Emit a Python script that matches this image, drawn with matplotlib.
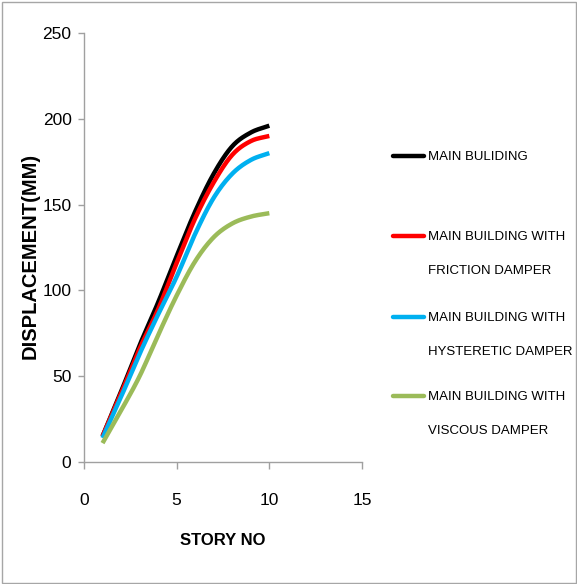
import numpy as np
import matplotlib
matplotlib.use("Agg")
import matplotlib.pyplot as plt
from matplotlib.lines import Line2D
from matplotlib.patches import Rectangle

stories = [1, 2, 3, 4, 5, 6, 7, 8, 9, 10]
main_building = [15, 41, 68, 93, 120, 146, 168, 184, 192, 196]
friction_damper = [15, 40, 66, 89, 116, 142, 163, 179, 187, 190]
hysteretic_damper = [14, 38, 63, 86, 108, 133, 154, 168, 176, 180]
viscous_damper = [11, 30, 50, 74, 97, 117, 131, 139, 143, 145]

series_labels = [["MAIN BULIDING"],
                 ["MAIN BUILDING WITH", "FRICTION DAMPER"],
                 ["MAIN BUILDING WITH", "HYSTERETIC DAMPER"],
                 ["MAIN BUILDING WITH", "VISCOUS DAMPER"]]
series_colors = ["#000000", "#FF0000", "#00B0F0", "#9BBB59"]
x_ticks = [0, 5, 10, 15]
y_ticks = [0, 50, 100, 150, 200, 250]

FONT = "Liberation Sans"
W, H = 577, 584


def smooth(x, y, steps=20):
    """Catmull-Rom style smoothing for a line through the given points."""
    x = np.asarray(x, float)
    y = np.asarray(y, float)
    px = np.concatenate([[2 * x[0] - x[1]], x, [2 * x[-1] - x[-2]]])
    py = np.concatenate([[2 * y[0] - y[1]], y, [2 * y[-1] - y[-2]]])
    xs, ys = [], []
    t = np.linspace(0, 1, steps, endpoint=False)
    for i in range(1, len(px) - 2):
        for arr, out in ((px, xs), (py, ys)):
            p0, p1, p2, p3 = arr[i - 1], arr[i], arr[i + 1], arr[i + 2]
            out.extend(0.5 * ((2 * p1) + (-p0 + p2) * t
                              + (2 * p0 - 5 * p1 + 4 * p2 - p3) * t ** 2
                              + (-p0 + 3 * p1 - 3 * p2 + p3) * t ** 3))
    xs.append(x[-1])
    ys.append(y[-1])
    return np.array(xs), np.array(ys)


fig = plt.figure(figsize=(W / 100, H / 100), dpi=100)
fig.patch.set_facecolor("white")
fig.add_artist(Rectangle((1.5 / W, 1.5 / H), 1 - 3 / W, 1 - 3 / H, transform=fig.transFigure,
                         fill=False, edgecolor="#A6A6A6", linewidth=1.0))

ax = fig.add_axes([84 / W, 1 - 462 / H, (362 - 84) / W, (462 - 33) / H])

all_series = [main_building, friction_damper, hysteretic_damper, viscous_damper]
for values, color in zip(all_series, series_colors):
    sx, sy = smooth(stories, values)
    ax.plot(sx, sy, color=color, linewidth=3.2, solid_capstyle="butt")

ax.set_xlim(0, 15)
ax.set_ylim(0, 250)
ax.set_xticks(x_ticks)
ax.set_yticks(y_ticks)
for side in ("top", "right"):
    ax.spines[side].set_visible(False)
for side in ("left", "bottom"):
    ax.spines[side].set_color("#A0A0A0")
    ax.spines[side].set_linewidth(1.0)
ax.tick_params(axis="both", direction="out", width=1.0, color="#A0A0A0", labelsize=12.5)
ax.tick_params(axis="y", length=4, pad=5)
ax.tick_params(axis="x", length=5, pad=17)
for lbl in ax.get_xticklabels() + ax.get_yticklabels():
    lbl.set_fontfamily(FONT)

ax.set_xlabel("STORY NO", fontsize=12, fontweight="bold", family=FONT, labelpad=18)
ax.set_ylabel("DISPLACEMENT(MM)", fontsize=14.5, fontweight="bold", family=FONT, labelpad=1)
ax.yaxis.set_label_coords(-0.16, 0.48)

# Legend drawn beside the plot area
legend_rows = [155.6, 235.6, 317, 396]
for row, lines, color in zip(legend_rows, series_labels, series_colors):
    yf = 1 - row / H
    fig.add_artist(Line2D([392.5 / W, 423.6 / W], [yf, yf], transform=fig.transFigure,
                          color=color, linewidth=3.2, solid_capstyle="round"))
    for k, text in enumerate(lines):
        fig.text(428.5 / W, 1 - (row + 1 + 34 * k) / H, text, fontsize=9.5, family=FONT,
                 va="center", ha="left")

fig.savefig("out.png", dpi=100, facecolor="white")
